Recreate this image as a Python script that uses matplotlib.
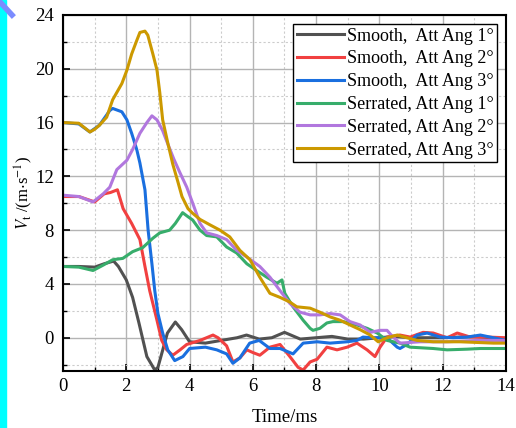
import matplotlib
matplotlib.use('Agg')
import matplotlib.pyplot as plt
from matplotlib.patches import Rectangle
from matplotlib.lines import Line2D
from matplotlib.ticker import MultipleLocator

plt.rcParams['font.family'] = ['Liberation Serif', 'DejaVu Serif']
plt.rcParams['mathtext.fontset'] = 'stix'

# Smooth, Att Ang 1
t_s1 = [0, 0.5, 1.0, 1.3, 1.6, 1.75, 2.0, 2.2, 2.4, 2.65, 2.9, 3.0, 3.3, 3.55, 3.75,
        4.0, 4.5, 5.0, 5.5, 5.8, 6.2, 6.6, 7.0, 7.5, 8.0, 8.5, 9.0, 9.5, 10.0, 10.5,
        11.0, 12.0, 13.0, 14.0]
v_s1 = [5.3, 5.3, 5.25, 5.5, 5.7, 5.3, 4.3, 3.0, 1.1, -1.4, -2.4, -2.2, 0.35, 1.17, 0.6,
        -0.3, -0.4, -0.2, 0.0, 0.2, -0.1, 0.0, 0.4, -0.1, 0.0, 0.1, -0.1, -0.1, 0.0, 0.1,
        0.0, 0.0, 0.1, -0.1]

# Smooth, Att Ang 2
t_s2 = [0, 0.5, 1.0, 1.3, 1.5, 1.72, 1.9, 2.17, 2.43, 2.59, 2.74, 2.97, 3.12, 3.28, 3.47,
        3.7, 3.91, 4.33, 4.74, 4.9, 5.17, 5.37, 5.59, 5.81, 6.0, 6.22, 6.54, 6.86, 7.17,
        7.43, 7.59, 7.81, 8.03, 8.34, 8.66, 8.98, 9.29, 9.61, 9.86, 10.02, 10.24, 10.65,
        10.97, 11.38, 11.7, 12.14, 12.46, 12.87, 13.41, 14.0]
v_s2 = [10.5, 10.5, 10.1, 10.7, 10.8, 11.0, 9.6, 8.5, 7.3, 5.3, 3.5, 1.3, -0.2, -0.9, -1.3,
        -0.9, -0.5, -0.2, 0.2, 0.0, -0.6, -1.8, -1.5, -0.9, -1.1, -1.3, -0.7, -0.5, -1.4,
        -2.2, -2.4, -1.8, -1.6, -0.7, -0.9, -0.7, -0.4, -0.9, -1.4, -0.7, 0.05, 0.2,
        0.05, 0.4, 0.35, 0.0, 0.35, 0.05, 0.05, 0.0]

# Smooth, Att Ang 3
t_s3 = [0, 0.5, 0.85, 1.15, 1.48, 1.57, 1.86, 2.02, 2.17, 2.33, 2.43, 2.59, 2.69, 2.81,
        2.9, 3.0, 3.15, 3.31, 3.53, 3.79, 4.0, 4.5, 4.86, 5.17, 5.37, 5.59, 5.9, 6.2,
        6.54, 6.86, 7.27, 7.59, 8.03, 8.44, 8.98, 9.29, 9.48, 9.8, 10.24, 10.56, 10.65,
        10.87, 11.19, 11.51, 11.92, 12.33, 12.77, 13.19, 13.6, 14.0]
v_s3 = [16.0, 15.9, 15.3, 15.8, 16.9, 17.05, 16.8, 16.2, 15.2, 14.0, 13.0, 11.0, 8.0, 5.5,
        3.5, 1.8, 0.35, -0.9, -1.7, -1.4, -0.8, -0.7, -0.9, -1.2, -1.9, -1.5, -0.4, -0.2,
        -0.8, -0.8, -1.2, -0.4, -0.3, -0.4, -0.3, -0.2, 0.05, 0.0, 0.0, -0.7, -0.8,
        -0.5, 0.2, 0.35, 0.05, 0.0, 0.05, 0.2, 0.0, -0.2]

# Serrated, Att Ang 1
t_r1 = [0, 0.5, 0.95, 1.27, 1.57, 1.89, 2.2, 2.52, 2.84, 3.06, 3.37, 3.55, 3.78, 3.95, 4.1,
        4.33, 4.54, 4.86, 5.17, 5.49, 5.81, 6.12, 6.44, 6.76, 6.92, 7.01, 7.27, 7.59, 7.81,
        7.9, 8.12, 8.34, 8.53, 8.85, 9.29, 9.61, 9.93, 10.24, 10.65, 10.97, 11.7, 12.14,
        12.77, 13.19, 14.0]
v_r1 = [5.3, 5.25, 5.0, 5.4, 5.8, 5.9, 6.4, 6.7, 7.4, 7.8, 8.0, 8.5, 9.3, 9.0, 8.75,
        8.0, 7.6, 7.5, 6.75, 6.3, 5.5, 5.0, 4.5, 4.05, 4.3, 3.3, 2.3, 1.3, 0.7,
        0.55, 0.7, 1.1, 1.2, 1.2, 0.95, 0.7, 0.35, -0.2, -0.4, -0.7, -0.8, -0.9,
        -0.85, -0.8, -0.8]

# Serrated, Att Ang 2
t_r2 = [0, 0.5, 0.95, 1.27, 1.48, 1.7, 2.02, 2.2, 2.43, 2.65, 2.81, 2.97, 3.15, 3.28, 3.5,
        3.69, 3.91, 4.1, 4.33, 4.54, 4.86, 5.17, 5.49, 5.81, 6.22, 6.54, 6.86, 7.17, 7.49,
        7.81, 8.12, 8.44, 8.76, 9.07, 9.39, 9.71, 10.02, 10.24, 10.43, 10.65, 11.29, 12.14,
        13.09, 14.0]
v_r2 = [10.6, 10.5, 10.1, 10.7, 11.2, 12.5, 13.2, 14.0, 15.2, 16.0, 16.5, 16.2, 15.4, 14.6,
        13.3, 12.3, 11.2, 10.0, 8.5, 7.8, 7.6, 7.3, 6.5, 6.0, 5.3, 4.5, 3.5, 2.55, 1.9,
        1.7, 1.7, 1.8, 1.7, 1.2, 0.95, 0.4, 0.55, 0.55, 0.05, -0.4, -0.3, -0.3,
        -0.2, -0.2]

# Serrated, Att Ang 3
t_r3 = [0, 0.5, 0.85, 1.0, 1.15, 1.38, 1.57, 1.86, 2.02, 2.17, 2.33, 2.43, 2.59, 2.68, 2.84,
        2.97, 3.06, 3.15, 3.31, 3.47, 3.63, 3.76, 3.95, 4.1, 4.33, 4.64, 4.96, 5.27, 5.59,
        5.91, 6.22, 6.54, 6.86, 7.17, 7.39, 7.81, 8.12, 8.44, 8.76, 9.07, 9.39, 9.71, 9.96,
        10.24, 10.56, 10.87, 11.19, 11.7, 12.55, 13.6, 14.0]
v_r3 = [16.0, 15.95, 15.3, 15.5, 15.8, 16.4, 17.7, 18.9, 19.9, 21.1, 22.1, 22.7, 22.8, 22.5, 21.1,
        19.9, 18.2, 16.2, 14.5, 12.9, 11.6, 10.5, 9.6, 9.25, 8.8, 8.4, 8.0, 7.5, 6.5,
        5.8, 4.5, 3.3, 3.0, 2.65, 2.3, 2.2, 1.9, 1.55, 1.3, 0.95, 0.6, 0.2, -0.3,
        0.0, 0.2, 0.0, -0.2, -0.3, -0.3, -0.4, -0.4]

series = [
    (t_s1, v_s1, '#515151', 'Smooth,  Att Ang 1°'),
    (t_s2, v_s2, '#F14040', 'Smooth,  Att Ang 2°'),
    (t_s3, v_s3, '#1A6FDF', 'Smooth,  Att Ang 3°'),
    (t_r1, v_r1, '#37AD6B', 'Serrated, Att Ang 1°'),
    (t_r2, v_r2, '#B177DE', 'Serrated, Att Ang 2°'),
    (t_r3, v_r3, '#CC9900', 'Serrated, Att Ang 3°'),
]

fig = plt.figure(figsize=(5.16, 4.28), dpi=100)
ax = fig.add_axes([0.1221, 0.1339, 0.8585, 0.8311])

for t, v, c, lab in series:
    ax.plot(t, v, color=c, lw=2.2, label=lab)

ax.set_xlim(0, 14)
ax.set_ylim(-2.45, 24)
ax.xaxis.set_major_locator(MultipleLocator(2))
ax.xaxis.set_minor_locator(MultipleLocator(1))
ax.yaxis.set_major_locator(MultipleLocator(4))
ax.yaxis.set_minor_locator(MultipleLocator(2))

# grid: solid major, dotted minor
ax.grid(which='major', color='#b4b4b4', lw=1.0, ls='-')
ax.grid(which='minor', color='#cccccc', lw=0.8, ls=(0, (2, 2)))
ax.set_axisbelow(True)

ax.tick_params(which='both', direction='in', top=False, right=False, labelsize=13.5)
ax.tick_params(axis='y', pad=6.5)
ax.tick_params(axis='x', pad=5)
ax.tick_params(which='major', length=5, width=1.2)
ax.tick_params(which='minor', length=3, width=1.0)
for s in ax.spines.values():
    s.set_linewidth(1.5)

ax.set_xlabel('Time/ms', fontsize=13.5, labelpad=10)
ax.set_ylabel(r'$V_{\rm t}$ /(m$\cdot$s$^{-1}$)', fontsize=12, labelpad=0)

leg = ax.legend(loc='upper right', fontsize=13, frameon=True, fancybox=False,
                edgecolor='black', framealpha=1, handlelength=2.6, handletextpad=0.15,
                labelspacing=0.32, borderpad=0.2, borderaxespad=0.5)
leg.get_frame().set_linewidth(1.0)

# stray marks at the left edge of the original picture
fig.patches.append(Rectangle((0, 0), 6 / 516, 1, transform=fig.transFigure,
                             color='#00ffff', zorder=5))
fig.lines.append(Line2D([0, 12 / 516], [1 - 2 / 428, 1 - 15 / 428], transform=fig.transFigure,
                        color='#7b8cff', lw=4, zorder=6))

fig.savefig('out.png', dpi=100)
